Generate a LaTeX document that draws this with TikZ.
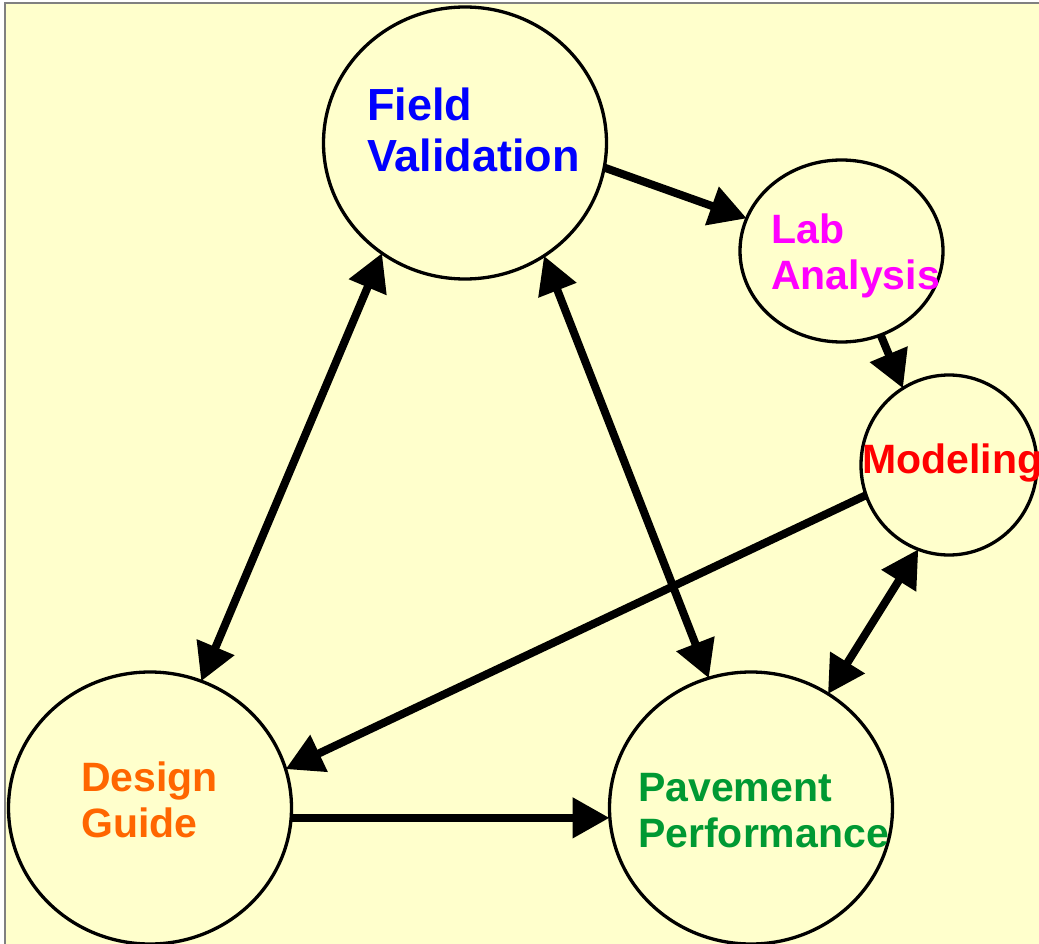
\documentclass[tikz,border=0pt]{standalone}
\usepackage{fontspec}
\setmainfont{Liberation Sans}
\usetikzlibrary{shapes.geometric,arrows.meta}
\definecolor{bgyellow}{HTML}{FFFFCC}
\definecolor{fvblue}{HTML}{0000FF}
\definecolor{lamag}{HTML}{FF00FF}
\definecolor{mored}{HTML}{FF0000}
\definecolor{dgorange}{HTML}{FF6600}
\definecolor{ppgreen}{HTML}{009933}
\definecolor{framegray}{HTML}{808080}
\begin{document}
\begin{tikzpicture}[x=1pt,y=-1pt,
  bubble/.style={ellipse,draw=black,line width=3.3pt,fill=bgyellow,inner sep=0pt,outer sep=0pt},
  lbl/.style={anchor=base west,inner sep=0pt,align=left,font=\bfseries\fontsize{41}{46}\selectfont},
  conn/.style={line width=8pt,draw=black},
  hd/.style={-{Triangle[length=37pt,width=39pt]}},
  dhd/.style={{Triangle[length=37pt,width=39pt]}-{Triangle[length=37pt,width=39pt]}}
]
\useasboundingbox (0,0) rectangle (1039,944);
\fill[white] (0,0) rectangle (1039,944);
\fill[bgyellow] (5,3) rectangle (1039,944);
\draw[framegray,line width=2pt] (5,944) -- (5,3) -- (1039,3);

% circles
\node[bubble,minimum width=283pt,minimum height=272pt] (fv) at (465,143) {};
\node[bubble,minimum width=203pt,minimum height=182pt] (la) at (841.5,251) {};
\node[bubble,minimum width=176pt,minimum height=180pt] (mo) at (949,465) {};
\node[bubble,minimum width=283pt,minimum height=272pt] (dg) at (150,808) {};
\node[bubble,minimum width=283pt,minimum height=272pt] (pp) at (751,808) {};

% labels (base anchor = baseline of the last line)
\node[lbl,text=fvblue,font=\bfseries\fontsize{45}{51}\selectfont] (fvt) at (367,172) {Field\\Validation};
\node[lbl,text=lamag] (lat) at (771,289) {Lab\\Analysis};
\node[lbl,text=mored] (mot) at (862,473) {Modeling};
\node[lbl,text=dgorange] (dgt) at (81,837) {Design\\Guide};
\node[lbl,text=ppgreen] (ppt) at (638,847) {Pavement\\Performance};

% connectors
\draw[conn,hd] (fv.-10.1) -- (la.161.3);
\draw[conn,hd] (la.-65.9) -- (mo.121.4);
\draw[conn,hd] (mo.-160) -- (dg.16.8);
\draw[conn,hd] (dg.-4.7) -- (dg.-4.7 -| pp.west);
\draw[conn,dhd] (fv.-127) -- (dg.68.8);
\draw[conn,dhd] (fv.-55.85) -- (pp.108.6);
\draw[conn,dhd] (mo.-110.3) -- (pp.56.4);
\end{tikzpicture}
\end{document}
